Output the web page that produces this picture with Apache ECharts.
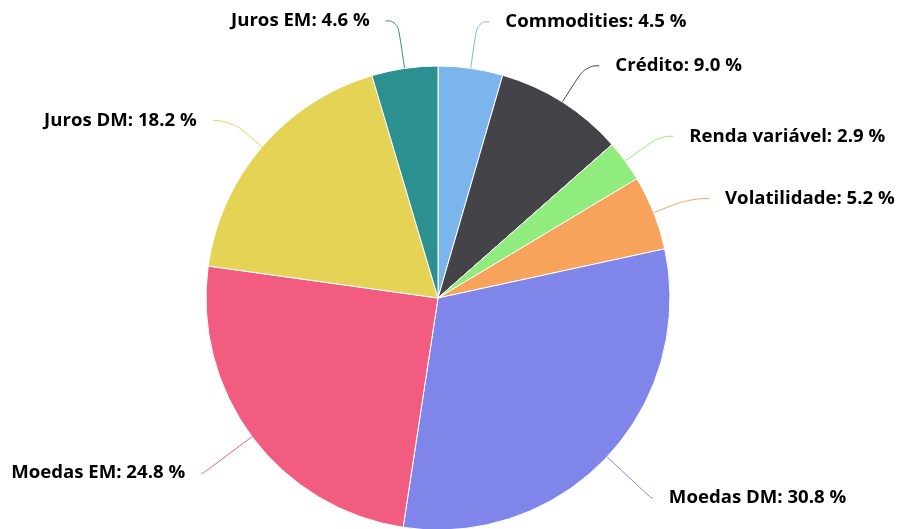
<!DOCTYPE html>
<html><head><meta charset="utf-8">
<script src="https://cdn.jsdelivr.net/npm/echarts@6/dist/echarts.min.js"></script>
<style>html,body{margin:0;padding:0;background:#fff}#c{width:899px;height:529px}</style>
</head><body><div id="c"></div>
<script>
const categories = ["Commodities","Crédito","Renda variável","Volatilidade","Moedas DM","Moedas EM","Juros DM","Juros EM"];
const values = [4.5, 9.0, 2.9, 5.2, 30.8, 24.8, 18.2, 4.6];
const colors = ["#7cb5ec","#434348","#90ed7d","#f7a35c","#8085e9","#f15c80","#e4d354","#2b908f"];
// connector segment lengths (style only)
const lineLen = [47, 43, 42, 38, 60, 61, 40, 48];
const lineLen2 = [12, 14, 14, 20, 2, 2, 19, 12];

const chart = echarts.init(document.getElementById('c'), null, {renderer:'canvas'});
chart.setOption({
  animation:false,
  backgroundColor:'#fff',
  series:[{
    type:'pie',
    center:[438,298],
    radius:232,
    startAngle:90,
    clockwise:true,
    avoidLabelOverlap:false,
    data: categories.map((n,i)=>({name:n,value:values[i],itemStyle:{color:colors[i]},labelLine:{length:lineLen[i],length2:lineLen2[i]}})),
    itemStyle:{borderColor:'#fff',borderWidth:1},
    label:{
      show:true,
      formatter:(p)=>p.name+': '+p.value.toFixed(1)+' %',
      fontFamily:'Open Sans',
      fontWeight:'bold',
      fontSize:18.6,
      color:'#000',
      distanceToLabelLine:16
    },
    labelLine:{show:true,length:45,length2:14,smooth:0.5,lineStyle:{width:1}}
  }]
});
</script></body></html>
